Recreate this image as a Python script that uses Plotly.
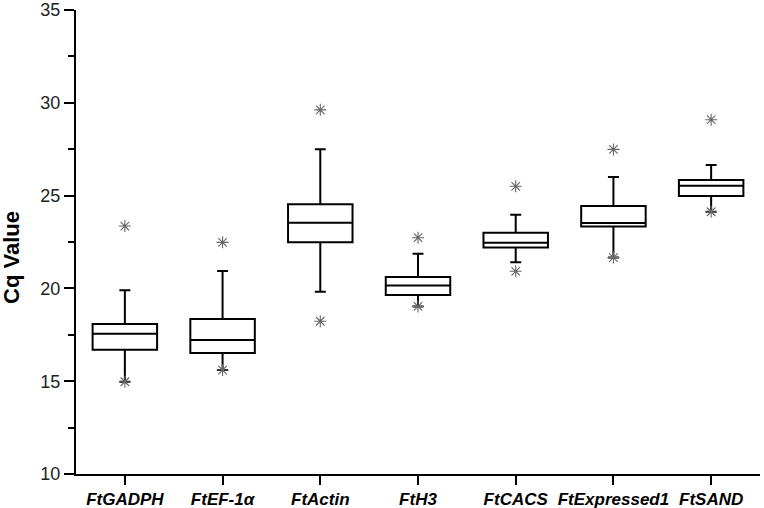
import plotly.graph_objects as go

genes = ["FtGADPH", "FtEF-1α", "FtActin", "FtH3", "FtCACS", "FtExpressed1", "FtSAND"]
q1 = [16.70, 16.52, 22.48, 19.64, 22.21, 23.33, 24.98]
median = [17.56, 17.22, 23.54, 20.16, 22.46, 23.52, 25.53]
q3 = [18.08, 18.35, 24.53, 20.61, 23.00, 24.44, 25.84]
lower_whisker = [14.97, 15.60, 19.82, 19.03, 21.41, 21.66, 24.13]
upper_whisker = [19.90, 20.94, 27.50, 21.87, 23.97, 26.00, 26.65]

# extreme points (asterisks)
star_genes = ["FtGADPH", "FtGADPH", "FtEF-1α", "FtEF-1α", "FtActin", "FtActin",
              "FtH3", "FtH3", "FtCACS", "FtCACS", "FtExpressed1", "FtExpressed1",
              "FtSAND", "FtSAND"]
star_values = [23.36, 14.97, 22.48, 15.60, 29.62, 18.23,
               22.73, 19.03, 25.50, 20.92, 27.49, 21.66,
               29.09, 24.13]

y_ticks = [10, 15, 20, 25, 30, 35]

fig = go.Figure()
fig.add_trace(go.Box(
    x=genes, q1=q1, median=median, q3=q3,
    lowerfence=lower_whisker, upperfence=upper_whisker,
    fillcolor="white", line=dict(color="black", width=2),
    whiskerwidth=0.17, width=0.66, boxpoints=False, hoverinfo="skip",
    showlegend=False,
))
fig.add_trace(go.Scatter(
    x=star_genes, y=star_values, mode="markers",
    marker=dict(symbol="asterisk-open", size=10, color="#666666",
                line=dict(color="#666666", width=1.1)),
    showlegend=False, hoverinfo="skip",
))

fig.update_layout(
    width=764, height=508,
    margin=dict(l=76, r=4, t=10, b=34, autoexpand=False),
    plot_bgcolor="white", paper_bgcolor="white",
    font=dict(family="Liberation Sans, Arial", color="black"),
    annotations=[dict(
        text="Cq Value", xref="paper", yref="paper",
        x=-0.0936, y=0.4677, xanchor="center", yanchor="middle",
        textangle=-90, showarrow=False,
        font=dict(size=22, weight="bold", color="black"),
    )],
)
fig.update_xaxes(
    type="category", categoryorder="array", categoryarray=genes,
    range=[-0.5, 6.5], showline=True, linecolor="black", linewidth=2,
    ticks="outside", ticklen=9, tickwidth=2, tickcolor="black",
    tickfont=dict(size=17, family="Liberation Sans, Arial", weight="bold", style="italic"),
    showgrid=False, zeroline=False, automargin=False,
)
fig.update_yaxes(
    range=[10, 35], tickvals=y_ticks, showline=True, linecolor="black", linewidth=2,
    ticks="outside", ticklen=10, tickwidth=1.5, tickcolor="black",
    minor=dict(ticks="outside", ticklen=6, dtick=2.5, tickcolor="black", tickwidth=1.5, showgrid=False),
    tickfont=dict(size=18, color="#222222"),
    showgrid=False, zeroline=False, automargin=False,
)

fig.write_html("out.html", config={"displayModeBar": False},
               post_script="document.body.style.margin='0';document.body.style.padding='0';")
